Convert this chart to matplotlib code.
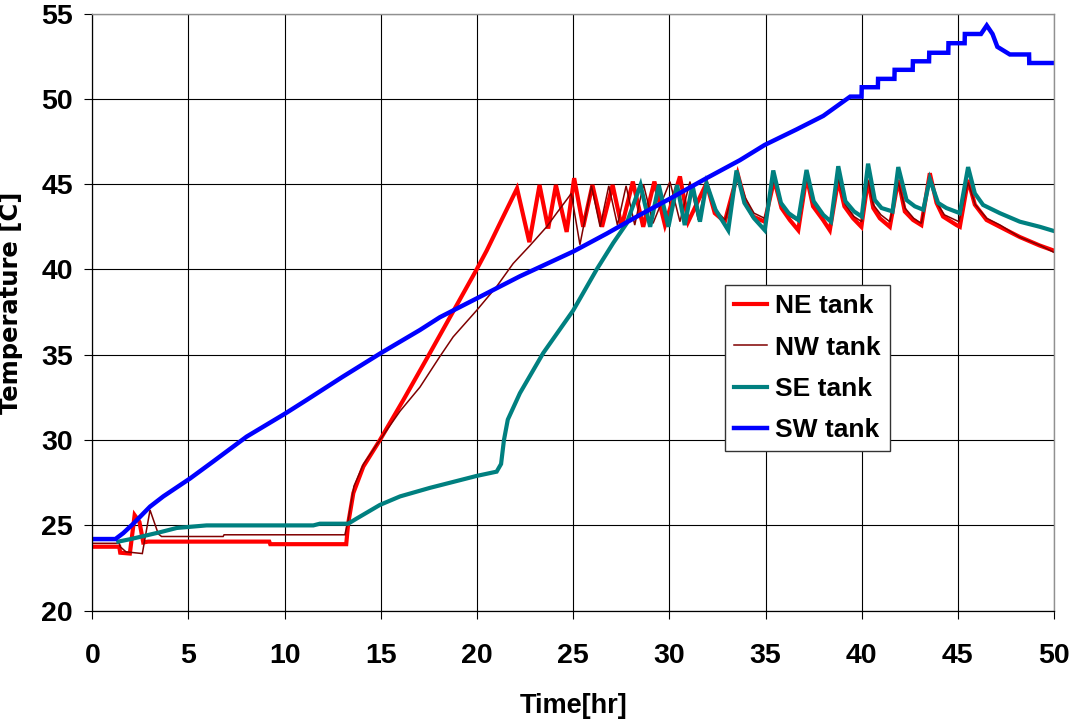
import numpy as np
import matplotlib
matplotlib.use('Agg')
import matplotlib.pyplot as plt

# datos (tiempo [hr], temperatura [C])

ne_t = [0, 1.4, 1.45, 1.95, 2.2, 2.45, 2.65, 2.9, 9.2, 9.25, 13.2, 13.3, 13.57, 14.09, 14.95,
        16.17, 17.55, 19.98, 20.5, 21.19, 22.08, 22.72, 23.25, 23.7, 24.1, 24.66, 25.05, 25.52,
        26.0, 26.5, 27.05, 27.52, 28.1, 28.64, 29.22, 29.77, 30.55, 30.98, 31.93, 32.36, 32.88,
        33.55, 33.92, 34.36, 34.95, 35.45, 35.83, 36.26, 36.7, 37.13, 37.47, 37.99, 38.34,
        38.78, 39.1, 39.55, 39.98, 40.33, 40.6, 40.94, 41.46, 41.9, 42.24, 42.67, 43.1, 43.54,
        43.89, 44.23, 44.93, 45.1, 45.53, 45.88, 46.49, 47.18, 48.22, 49.26, 50.0]
ne_T = [23.75, 23.75, 23.4, 23.35, 25.6, 25.2, 24.0, 24.05, 24.05, 23.9, 23.9, 25.1, 26.9, 28.45, 30.0,
        32.35, 35.1, 40.0, 41.1, 42.7, 44.75, 41.6, 44.95, 42.4, 44.95, 42.2, 45.35, 42.5,
        44.95, 42.5, 44.95, 42.5, 45.15, 42.5, 45.15, 42.6, 45.45, 42.8, 45.05, 43.3, 42.8,
        45.6, 44.05, 43.1, 42.8, 45.25, 43.6, 42.9, 42.3, 45.45, 43.7, 42.9, 42.3,
        45.25, 43.7, 43.0, 42.5, 45.25, 43.6, 43.0, 42.5, 45.25, 43.4, 42.9, 42.6, 45.64,
        43.9, 43.1, 42.6, 42.5, 45.25, 43.8, 42.9, 42.5, 41.9, 41.4, 41.1]

nw_t = [0, 1.4, 1.45, 1.75, 2.6, 3.0, 3.43, 3.6, 6.8, 6.85, 13.13, 13.3, 13.6, 14.1, 14.95,
        16.0, 17.03, 18.07, 18.76, 19.98, 21.02, 21.88, 22.75, 23.62, 24.14, 24.9, 25.35,
        25.95, 26.4, 26.85, 27.3, 27.75, 28.2, 28.65, 29.15, 30.03, 30.55, 31.07, 31.5, 31.93,
        32.4, 32.9, 33.58, 33.95, 34.4, 34.95, 35.45, 35.85, 36.3, 36.75, 37.13, 37.5, 38.0,
        38.4, 38.78, 39.15, 39.6, 40.0, 40.33, 40.6, 41.0, 41.46, 41.9, 42.25, 42.7, 43.1,
        43.54, 43.9, 44.3, 45.05, 45.53, 45.9, 46.5, 47.2, 48.2, 49.3, 50.0]
nw_T = [23.95, 23.95, 23.75, 23.45, 23.35, 25.9, 24.5, 24.35, 24.35, 24.45, 24.45, 25.3, 27.3, 28.6, 30.0,
        31.7, 33.1, 34.9, 36.05, 37.6, 39.0, 40.35, 41.4, 42.5, 43.3, 44.45, 41.45,
        44.9, 42.5, 44.9, 42.6, 44.9, 42.6, 45.0, 42.7, 45.15, 42.8, 45.15, 42.9, 45.1,
        43.5, 42.9, 45.5, 44.2, 43.3, 43.0, 45.3, 43.8, 43.1, 42.8, 45.4, 43.9, 43.1,
        42.8, 45.3, 43.8, 43.1, 42.8, 45.2, 43.8, 43.2, 42.8, 45.1, 43.6, 43.0, 42.7,
        45.4, 43.9, 43.2, 42.8, 45.1, 43.8, 43.0, 42.6, 41.9, 41.4, 41.0]

se_t = [1.35, 2.0, 3.52, 4.39, 5.94, 11.49, 11.83, 13.3, 13.74, 14.95, 16.0, 17.55, 19.98, 21.02,
        21.25, 21.4, 21.6, 22.23, 23.44, 25.0, 26.22, 27.08, 27.78, 28.5, 29.0, 29.45, 29.95,
        30.4, 30.8, 31.2, 31.59, 31.93, 32.4, 33.06, 33.49, 33.9, 34.4, 34.96, 35.4, 35.8,
        36.2, 36.7, 37.13, 37.5, 38.0, 38.4, 38.78, 39.15, 39.6, 40.0, 40.33, 40.68, 41.03,
        41.6, 41.9, 42.33, 42.76, 43.2, 43.54, 43.97, 44.4, 45.1, 45.53, 45.88, 46.31, 47.18,
        48.22, 49.26, 50.0]
se_T = [24.05, 24.2, 24.6, 24.85, 25.0, 25.0, 25.1, 25.1, 25.4, 26.2, 26.7, 27.2, 27.9, 28.15,
        28.6, 30.0, 31.2, 32.75, 35.1, 37.6, 40.0, 41.55, 42.7, 44.95, 42.5, 44.95, 42.5,
        44.95, 42.6, 44.95, 42.8, 45.05, 43.5, 42.3, 45.8, 43.9, 43.0, 42.3, 45.8, 43.9,
        43.3, 42.9, 45.83, 44.0, 43.2, 42.8, 46.05, 44.0, 43.4, 43.1, 46.2, 44.07, 43.6,
        43.4, 46.0, 44.07, 43.7, 43.5, 45.3, 43.9, 43.6, 43.3, 46.0, 44.46, 43.78, 43.3,
        42.8, 42.5, 42.25]

sw_t = [0, 1.2, 1.61, 2.13, 3.0, 3.69, 5.08, 6.29, 8.02, 10.02, 11.14, 13.0, 15.0, 17.03, 18.07,
        19.98, 22.23, 25.0, 26.74, 28.47, 30.03, 31.93, 33.66, 34.96, 36.6, 38.0, 39.4, 39.99,
        40.0, 40.84, 40.85, 41.7, 41.71, 42.65, 42.66, 43.5, 43.51, 44.5, 44.51, 45.35, 45.36,
        46.2, 46.5, 46.8, 47.05, 47.7, 48.7, 48.71, 50.0]
sw_T = [24.2, 24.2, 24.55, 25.1, 26.1, 26.7, 27.75, 28.75, 30.2, 31.55, 32.35, 33.7, 35.1, 36.45, 37.2,
        38.3, 39.6, 41.05, 42.1, 43.2, 44.15, 45.35, 46.4, 47.3, 48.2, 49.0, 50.13, 50.13,
        50.68, 50.68, 51.17, 51.17, 51.7, 51.7, 52.2, 52.2, 52.7, 52.7, 53.26, 53.26, 53.8,
        53.8, 54.3, 53.8, 53.05, 52.6, 52.6, 52.1, 52.1]

series = [('NE tank', ne_t, ne_T, '#FF0000', 3.0),
          ('NW tank', nw_t, nw_T, '#800000', 1.1),
          ('SE tank', se_t, se_T, '#008080', 3.0),
          ('SW tank', sw_t, sw_T, '#0000FF', 3.2)]

plt.rcParams['font.family'] = ['Liberation Sans', 'DejaVu Sans']
plt.rcParams['font.weight'] = 'bold'

fig = plt.figure(figsize=(10.71, 7.19), dpi=100)
ax = fig.add_axes([0.0862, 0.1506, 0.898, 0.8306])

for nombre, t, T, col, lw in series:
    ax.plot(t, T, color=col, lw=lw, label=nombre, solid_joinstyle='miter')

ax.set_xlim(0, 50)
ax.set_ylim(20, 55)
ax.set_xticks(np.arange(0, 51, 5))
ax.set_yticks(np.arange(20, 56, 5))
ax.grid(True, color='black', lw=0.8)
ax.set_axisbelow(True)

ax.tick_params(axis='x', direction='out', length=6, width=0.8, labelsize=20.5, pad=17)
ax.tick_params(axis='y', direction='out', length=6, width=0.8, labelsize=20.5, pad=8)
for lab in ax.get_xticklabels() + ax.get_yticklabels():
    lab.set_fontweight('bold')

for s in ['left', 'bottom']:
    ax.spines[s].set_color('black')
    ax.spines[s].set_linewidth(0.9)
for s in ['top', 'right']:
    ax.spines[s].set_color('#909090')
    ax.spines[s].set_linewidth(1.0)

ax.set_xlabel('Time[hr]', fontsize=19.5, fontweight='bold')
ax.set_ylabel('Temperature [C]', fontsize=17.5, fontweight='bold', family='DejaVu Sans')
ax.xaxis.set_label_coords(0.5, -0.137)
ax.yaxis.set_label_coords(-0.072, 0.516)

leg = ax.legend(loc='upper left', bbox_to_anchor=(0.658, 0.545), fontsize=19,
                frameon=True, fancybox=False, framealpha=1, edgecolor='#333333',
                handlelength=1.25, handletextpad=0.3, labelspacing=0.65, borderpad=0.35,
                borderaxespad=0)
leg.get_frame().set_linewidth(1.0)
for txt in leg.get_texts():
    txt.set_fontweight('bold')

fig.savefig('out.png', dpi=100)
